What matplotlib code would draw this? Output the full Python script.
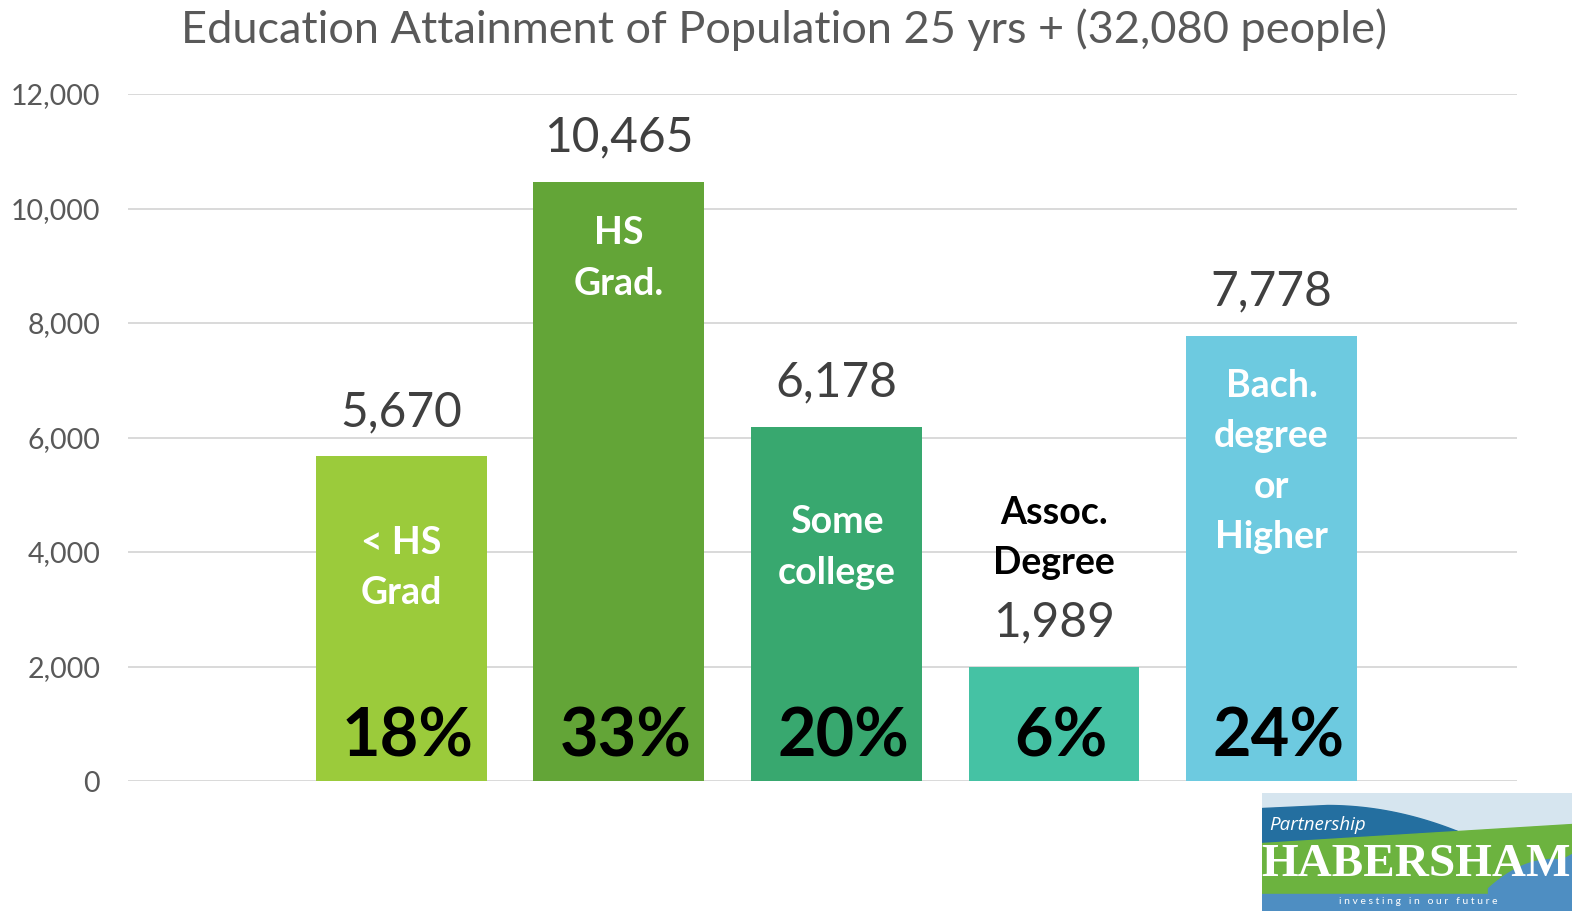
import numpy as np
import matplotlib.pyplot as plt

plt.rcParams['font.family'] = ['Lato', 'DejaVu Sans']

# chart data
categories = ['< HS\nGrad', 'HS\nGrad.', 'Some\ncollege', 'Assoc.\nDegree', 'Bach.\ndegree\nor\nHigher']
people = [5670, 10465, 6178, 1989, 7778]
percents = ['18%', '33%', '20%', '6%', '24%']
label_y = [3720, 9127, 4079, 4245, 5581]   # centre of the in-bar category label
label_colors = ['white', 'white', 'white', 'black', 'white']
bar_colors = ['#9BCB3B', '#63A537', '#38A86F', '#45C2A4', '#6DCAE0']
yticks = [0, 2000, 4000, 6000, 8000, 10000, 12000]

fig = plt.figure(figsize=(15.72, 9.11), dpi=100)
ax = fig.add_axes([0.0814, 0.1427, 0.8837, 0.7541])

x = np.arange(len(people))
ax.bar(x, people, width=0.786, color=bar_colors, zorder=2)

ax.set_xlim(-1.257, 5.129)
ax.set_ylim(0, 12000)
ax.set_yticks(yticks)
ax.set_yticklabels([f'{v:,}' for v in yticks])
ax.set_xticks([])
ax.tick_params(axis='y', length=0, pad=20, labelsize=20.5, labelcolor='#595959')
for s in ['top', 'right', 'left', 'bottom']:
    ax.spines[s].set_visible(False)
ax.grid(axis='y', color='#D9D9D9', lw=1.4, zorder=0)

for i, v in enumerate(people):
    ax.annotate(f'{v:,}', (x[i], v), xytext=(0, 32), textcoords='offset points',
                ha='center', va='center', fontsize=34.5, color='#404040')
    ax.text(x[i], label_y[i], categories[i], ha='center', va='center',
            fontsize=27, fontweight='bold', color=label_colors[i], linespacing=1.58)
    ax.text(x[i] + 0.03, 760, percents[i], ha='center', va='center',
            fontsize=48, fontweight='bold', color='black')

fig.text(0.4987, 1 - 30 / 911, 'Education Attainment of Population 25 yrs + (32,080 people)',
         ha='center', va='center', fontsize=32.5, color='#595959')

# logo in the lower right corner
lg = fig.add_axes([1262 / 1572, 0, 310 / 1572, 118 / 911])
lg.set_xlim(0, 310)
lg.set_ylim(118, 0)
lg.axis('off')
lx = np.linspace(0, 310, 300)
lg.fill_between(lx, 0, 118, color='#D6E5EF')
green_top = 50 - 19 * lx / 310
dark_top = np.where(lx < 65, 15 - 3 * lx / 65, 12 + 30 * ((lx - 65) / 140) ** 2)
dk = dark_top < green_top
lg.fill_between(lx[dk], dark_top[dk], green_top[dk], color='#246FA0')
lg.fill_between(lx, green_top, 118, color='#6CB33F')
lower = np.where(lx < 270, 101, 101 - 40 * np.sqrt(np.clip((lx - 270) / 40, 0, 1)))
lg.fill_between(lx, lower, 118, color='#4E8EC2')
blob = lx > 225
bx = lx[blob]
lg.fill_between(bx, 66 + 30 * ((bx - 290) / 65) ** 2, 118, color='#4E8EC2')
lg.text(7, 32, 'Partnership', fontsize=13.5, style='italic', color='white', va='center',
        family='Open Sans')
lg.text(154, 72, 'HABERSHAM', fontsize=34, fontweight='bold', color='white',
        family='Liberation Serif', ha='center', va='center')
lg.text(156, 109, 'i n v e s t i n g   i n   o u r   f u t u r e', fontsize=7.5,
        color='white', ha='center', va='center')

fig.savefig('out.png', dpi=100)
